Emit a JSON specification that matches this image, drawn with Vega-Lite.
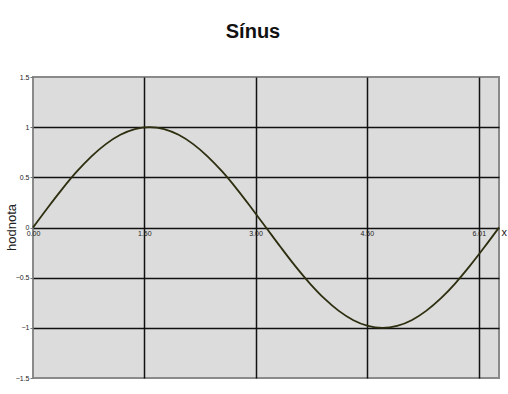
{
  "$schema": "https://vega.github.io/schema/vega-lite/v6.json",
  "width": 466,
  "height": 301,
  "autosize": {"type": "none"},
  "padding": {"left": 33, "top": 77, "right": 9, "bottom": 16},
  "background": "white",
  "title": {
    "text": "Sínus",
    "font": "Liberation Sans",
    "fontSize": 20,
    "fontWeight": "bold",
    "color": "#111111",
    "anchor": "middle",
    "offset": 31,
    "dx": -13
  },
  "config": {
    "view": {"fill": "#dcdcdc", "stroke": "#8a8a8a", "strokeWidth": 2},
    "axis": {"labelFont": "Liberation Sans", "titleFont": "Liberation Sans"}
  },
  "data": {
    "values": [
      {"x": 0.000, "hodnota": 0.000},
      {"x": 0.196, "hodnota": 0.195},
      {"x": 0.393, "hodnota": 0.383},
      {"x": 0.589, "hodnota": 0.556},
      {"x": 0.785, "hodnota": 0.707},
      {"x": 0.982, "hodnota": 0.831},
      {"x": 1.178, "hodnota": 0.924},
      {"x": 1.374, "hodnota": 0.981},
      {"x": 1.571, "hodnota": 1.000},
      {"x": 1.767, "hodnota": 0.981},
      {"x": 1.963, "hodnota": 0.924},
      {"x": 2.160, "hodnota": 0.831},
      {"x": 2.356, "hodnota": 0.707},
      {"x": 2.553, "hodnota": 0.556},
      {"x": 2.749, "hodnota": 0.383},
      {"x": 2.945, "hodnota": 0.195},
      {"x": 3.142, "hodnota": 0.000},
      {"x": 3.338, "hodnota": -0.195},
      {"x": 3.534, "hodnota": -0.383},
      {"x": 3.731, "hodnota": -0.556},
      {"x": 3.927, "hodnota": -0.707},
      {"x": 4.123, "hodnota": -0.831},
      {"x": 4.320, "hodnota": -0.924},
      {"x": 4.516, "hodnota": -0.981},
      {"x": 4.712, "hodnota": -1.000},
      {"x": 4.909, "hodnota": -0.981},
      {"x": 5.105, "hodnota": -0.924},
      {"x": 5.301, "hodnota": -0.831},
      {"x": 5.498, "hodnota": -0.707},
      {"x": 5.694, "hodnota": -0.556},
      {"x": 5.890, "hodnota": -0.383},
      {"x": 6.087, "hodnota": -0.195},
      {"x": 6.283, "hodnota": 0.000}
    ]
  },
  "mark": {"type": "line", "color": "#2e2e10", "strokeWidth": 1.8, "interpolate": "monotone"},
  "encoding": {
    "x": {
      "field": "x",
      "type": "quantitative",
      "scale": {"domain": [0, 6.283], "nice": false, "zero": false},
      "axis": {
        "title": "x",
        "titleFontSize": 11,
        "titleFontWeight": "normal",
        "titleColor": "#222222",
        "titleX": 468,
        "titleY": 5,
        "titleAlign": "left",
        "titleBaseline": "middle",
        "titleAngle": 0,
        "values": [0, 1.5, 3, 4.5, 6.01],
        "format": ".2f",
        "offset": -151,
        "domain": false,
        "ticks": false,
        "labelFontSize": 7,
        "labelColor": "#222222",
        "labelPadding": 2,
        "labelFlush": false,
        "grid": true,
        "gridColor": {"condition": {"test": "datum.value == 0", "value": "transparent"}, "value": "#111111"},
        "gridWidth": 1.5,
        "gridOpacity": 1
      }
    },
    "y": {
      "field": "hodnota",
      "type": "quantitative",
      "scale": {"domain": [-1.5, 1.5], "nice": false},
      "axis": {
        "title": "hodnota",
        "titleFontSize": 13,
        "titleFontWeight": "normal",
        "titleColor": "#222222",
        "titleX": -15,
        "titleY": 150,
        "titleBaseline": "bottom",
        "values": [-1.5, -1, -0.5, 0, 0.5, 1, 1.5],
        "format": "~g",
        "domain": false,
        "tickSize": 3,
        "tickColor": "#777777",
        "labelFontSize": 7,
        "labelColor": "#222222",
        "labelPadding": 1,
        "grid": true,
        "gridColor": {"condition": {"test": "abs(datum.value) == 1.5", "value": "transparent"}, "value": "#111111"},
        "gridWidth": 1.5,
        "gridOpacity": 1
      }
    }
  }
}
